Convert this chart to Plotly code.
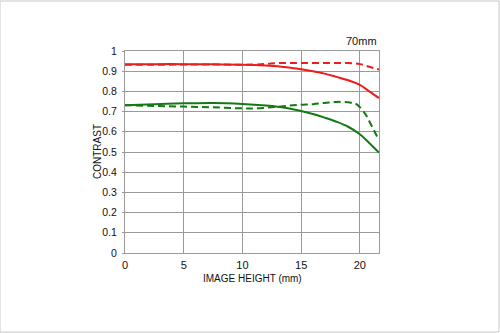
import plotly.graph_objects as go

x_red_solid = [0, 2.5, 5, 7.5, 10, 12, 13, 14, 15, 16, 17, 18, 19, 20, 20.8, 21.63]
y_red_solid = [0.935, 0.935, 0.935, 0.934, 0.932, 0.928, 0.925, 0.918, 0.91, 0.9, 0.888, 0.872, 0.855, 0.832, 0.8, 0.767]

x_red_dash = [0, 2.5, 5, 7.5, 10, 11, 12, 13, 14, 15, 16, 17, 18, 19, 20, 20.8, 21.63]
y_red_dash = [0.932, 0.932, 0.933, 0.933, 0.932, 0.933, 0.936, 0.94, 0.941, 0.941, 0.941, 0.941, 0.94, 0.94, 0.935, 0.922, 0.908]

x_green_solid = [0, 2.5, 5, 7.5, 10, 12, 13, 14, 15, 16, 17, 18, 19, 20, 20.8, 21.63]
y_green_solid = [0.732, 0.737, 0.741, 0.743, 0.738, 0.73, 0.724, 0.715, 0.703, 0.688, 0.67, 0.65, 0.625, 0.588, 0.545, 0.497]

x_green_dash = [0, 2.5, 5, 7.5, 10, 11, 12, 13, 14, 15, 16, 17, 18, 19, 19.6, 20, 20.5, 21, 21.63]
y_green_dash = [0.732, 0.728, 0.725, 0.721, 0.716, 0.716, 0.719, 0.724, 0.73, 0.734, 0.737, 0.743, 0.748, 0.746, 0.74, 0.722, 0.685, 0.63, 0.558]

x_ticks = [0, 5, 10, 15, 20]
y_ticks = [0, 0.1, 0.2, 0.3, 0.4, 0.5, 0.6, 0.7, 0.8, 0.9, 1]
y_ticktext = ["0", "0.1", "0.2", "0.3", "0.4", "0.5", "0.6", "0.7", "0.8", "0.9", "1"]

RED = "#ee1c1c"
GREEN = "#137a13"
DASH = "7px,4px"

fig = go.Figure()
fig.add_trace(go.Scatter(x=x_red_dash, y=y_red_dash, mode="lines", line=dict(color=RED, width=2, dash=DASH, shape="spline")))
fig.add_trace(go.Scatter(x=x_green_dash, y=y_green_dash, mode="lines", line=dict(color=GREEN, width=2, dash=DASH, shape="spline")))
fig.add_trace(go.Scatter(x=x_red_solid, y=y_red_solid, mode="lines", line=dict(color=RED, width=2, shape="spline")))
fig.add_trace(go.Scatter(x=x_green_solid, y=y_green_solid, mode="lines", line=dict(color=GREEN, width=2, shape="spline")))

font = dict(family="Liberation Sans, Arial, sans-serif", size=11, color="#111111")
W, H = 254, 202

fig.update_layout(
    width=500, height=333,
    margin=dict(l=125, r=121, t=51, b=80),
    paper_bgcolor="white", plot_bgcolor="white",
    showlegend=False,
    font=font,
    xaxis=dict(
        range=[0, 21.63], tickvals=x_ticks, ticktext=[str(v) for v in x_ticks],
        showgrid=True, gridcolor="#9a9a9a", gridwidth=1,
        showline=True, linecolor="#9a9a9a", mirror=True, zeroline=False,
        ticks="", ticklabelstandoff=2,
    ),
    yaxis=dict(
        range=[0, 1], tickvals=y_ticks, ticktext=y_ticktext,
        showgrid=True, gridcolor="#9a9a9a", gridwidth=1,
        showline=True, linecolor="#9a9a9a", mirror=True, zeroline=False,
        ticks="outside", ticklen=2, tickcolor="#9a9a9a", ticklabelstandoff=3,
        tickfont=dict(size=10.5),
    ),
    annotations=[
        dict(text="70mm", x=1, y=1, xref="paper", yref="paper",
             xanchor="right", yanchor="bottom", yshift=2, showarrow=False,
             font=dict(size=11)),
        dict(text="IMAGE HEIGHT (mm)", x=(252.5 - 125) / W, y=(253 - 278) / H,
             xref="paper", yref="paper", xanchor="center", yanchor="middle",
             showarrow=False, font=dict(size=10)),
        dict(text="CONTRAST", x=(97 - 125) / W, y=0.5, textangle=-90,
             xref="paper", yref="paper", xanchor="center", yanchor="middle",
             showarrow=False, font=dict(size=10)),
    ],
    shapes=[dict(type="rect", xref="paper", yref="paper",
                 x0=-125 / W, x1=(W + 120) / W, y0=-79 / H, y1=(H + 50) / H,
                 line=dict(color="#c8c8c8", width=1))],
)

fig.write_html("out.html")
